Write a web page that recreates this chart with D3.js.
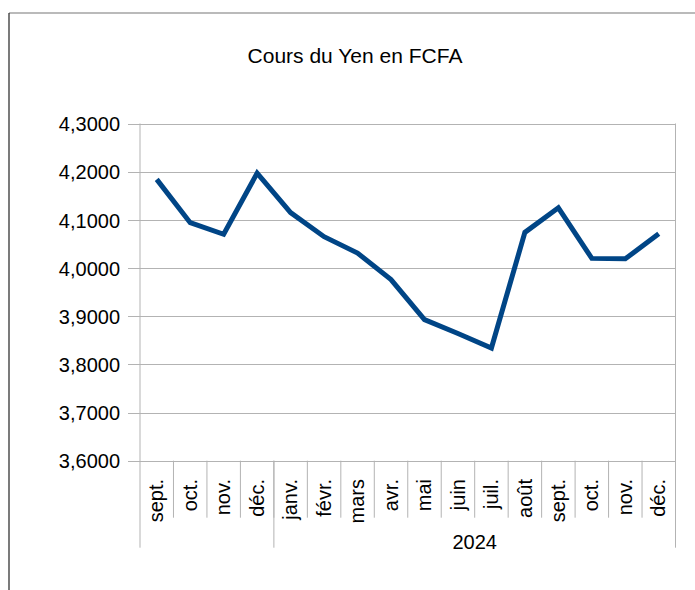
<!DOCTYPE html>
<html lang="fr">
<head>
    <meta charset="utf-8">
    <script src="https://d3js.org/d3.v7.min.js"></script>
    <style>
        body { margin: 0; background: #fff; }
        text { font-family: "Liberation Sans", Arial, sans-serif; fill: #000; }
    </style>
</head>
<body>
    <script type="text/javascript">

        let w = 695;
        let h = 590;

        // données
        let months = ["sept.", "oct.", "nov.", "déc.", "janv.", "févr.", "mars", "avr.",
                      "mai", "juin", "juil.", "août", "sept.", "oct.", "nov.", "déc."];
        let values = [4.184, 4.094, 4.070, 4.197, 4.115, 4.065, 4.031, 3.976,
                      3.893, 3.864, 3.834, 4.074, 4.125, 4.020, 4.019, 4.071];
        let yearLabels = ["", "2024"];
        let yearCounts = [4, 12];
        let yTicks = [3.6, 3.7, 3.8, 3.9, 4.0, 4.1, 4.2, 4.3];
        let title = "Cours du Yen en FCFA";

        let pLeft = 140, pRight = 675.5, pTop = 123.5, pBottom = 460.7;

        let svg = d3.select("body").append("svg")
                    .attr("width", w)
                    .attr("height", h);

        // cadre
        svg.append("line")
            .attr("x1", 9).attr("x2", w).attr("y1", 13).attr("y2", 13)
            .attr("stroke", "#777").attr("stroke-width", 1.2);
        svg.append("line")
            .attr("x1", 9).attr("x2", 9).attr("y1", 13).attr("y2", h)
            .attr("stroke", "#222").attr("stroke-width", 1.2);

        svg.append("text")
            .attr("x", 355).attr("y", 63)
            .attr("text-anchor", "middle")
            .style("font-size", "21px")
            .text(title);

        let x = d3.scaleBand()
                  .domain(d3.range(months.length))
                  .range([pLeft, pRight])
                  .padding(0);

        let y = d3.scaleLinear()
                  .domain([3.6, 4.3])
                  .range([pBottom, pTop]);

        let fr = d3.formatLocale({decimal: ",", thousands: " ", grouping: [3], currency: ["", " €"]});
        let fmt = fr.format(".4f");

        // grille horizontale
        svg.selectAll("line.grid")
            .data(yTicks)
            .join("line")
                .attr("class", "grid")
                .attr("x1", pLeft - 12)
                .attr("x2", pRight)
                .attr("y1", d => Math.round(y(d)) + 0.5)
                .attr("y2", d => Math.round(y(d)) + 0.5)
                .attr("stroke", "#b3b3b3")
                .attr("stroke-width", 1);

        // axe Y
        let yAxis = svg.append("g")
            .attr("transform", "translate(" + (pLeft - 20) + ",0)")
            .call(d3.axisLeft(y).tickValues(yTicks).tickFormat(fmt).tickSize(0).tickPadding(0));
        yAxis.select(".domain").remove();
        yAxis.selectAll("text")
            .style("font-size", "20px")
            .attr("dy", "0.36em")
            .attr("font-family", null);

        // bords verticaux de la zone
        [pLeft, pRight].forEach(function(xx) {
            svg.append("line")
                .attr("x1", xx).attr("x2", xx).attr("y1", pTop).attr("y2", pBottom + 87)
                .attr("stroke", "#b3b3b3");
        });

        // graduations des mois
        svg.selectAll("line.mtick")
            .data(d3.range(1, months.length))
            .join("line")
                .attr("class", "mtick")
                .attr("x1", d => x(d))
                .attr("x2", d => x(d))
                .attr("y1", pBottom)
                .attr("y2", pBottom + 57)
                .attr("stroke", "#b3b3b3");

        // étiquettes des mois
        svg.selectAll("text.month")
            .data(months)
            .join("text")
                .attr("class", "month")
                .attr("transform", (d, i) => "translate(" + (x(i) + x.bandwidth() / 2) + "," + 479 + ") rotate(-90)")
                .attr("text-anchor", "end")
                .attr("dy", "0.33em")
                .style("font-size", "20px")
                .text(d => d);

        // groupes d'années
        let starts = d3.cumsum([0].concat(yearCounts)).slice(0, yearCounts.length);
        yearLabels.forEach(function(lab, k) {
            let s = starts[k], e = s + yearCounts[k];
            let x0 = x(s), x1 = e < months.length ? x(e) : pRight;
            if (s > 0) {
                svg.append("line")
                    .attr("x1", x0).attr("x2", x0).attr("y1", pBottom).attr("y2", pBottom + 87)
                    .attr("stroke", "#b3b3b3");
            }
            svg.append("text")
                .attr("x", (x0 + x1) / 2)
                .attr("y", 549)
                .attr("text-anchor", "middle")
                .style("font-size", "20px")
                .text(lab);
        });

        // courbe
        let line = d3.line()
            .x((d, i) => x(i) + x.bandwidth() / 2)
            .y(d => y(d));

        svg.append("path")
            .datum(values)
            .attr("d", line)
            .attr("fill", "none")
            .attr("stroke", "#004586")
            .attr("stroke-width", 5)
            .attr("stroke-linejoin", "miter");

    </script>
</body>
</html>
